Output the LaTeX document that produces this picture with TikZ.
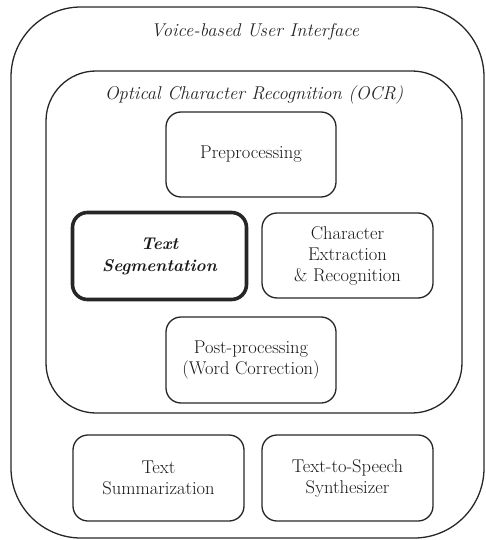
\documentclass[tikz,border=0pt]{standalone}
\begin{document}
\begin{tikzpicture}[x=1pt,y=-1pt,
  frame/.style={draw=black!85,line width=1.3pt,rounded corners=#1},
  module/.style={draw=black!85,line width=1.3pt,rounded corners=15pt,
    minimum width=171pt,minimum height=86pt,align=center,inner sep=0pt,
    text=black!90,font=\fontsize{18.5}{21}\selectfont},
  label/.style={font=\fontsize{18.5}{21}\selectfont\itshape,text=black!85}]
\useasboundingbox (0,0) rectangle (486,540);
% outer frame: voice-based user interface
\draw[frame=70pt] (11,7) rectangle (484,538);
\node[label] (vui) at (255,32) {Voice-based User Interface};
% OCR frame
\draw[frame=50pt] (46,71) rectangle (462,413);
\node[label] (ocr) at (254,95) {Optical Character Recognition (OCR)};
% OCR stages
\node[module,minimum width=170pt,minimum height=85pt] (pre) at (251,154.5) {Preprocessing};
\node[module,line width=3.6pt,minimum width=174pt,minimum height=87pt,
  font=\fontsize{17}{22}\selectfont\bfseries\itshape] (seg) at (159.5,256) {Text\\Segmentation};
\node[module,minimum width=171pt,minimum height=85pt] (cer) at (347.5,255.5) {Character\\Extraction\\\& Recognition};
\node[module,minimum width=170pt,minimum height=86pt] (post) at (251,360) {Post-processing\\(Word Correction)};
% downstream modules
\node[module] (sum) at (158.5,478) {Text\\Summarization};
\node[module] (tts) at (347.5,478) {Text-to-Speech\\Synthesizer};
\end{tikzpicture}
\end{document}
